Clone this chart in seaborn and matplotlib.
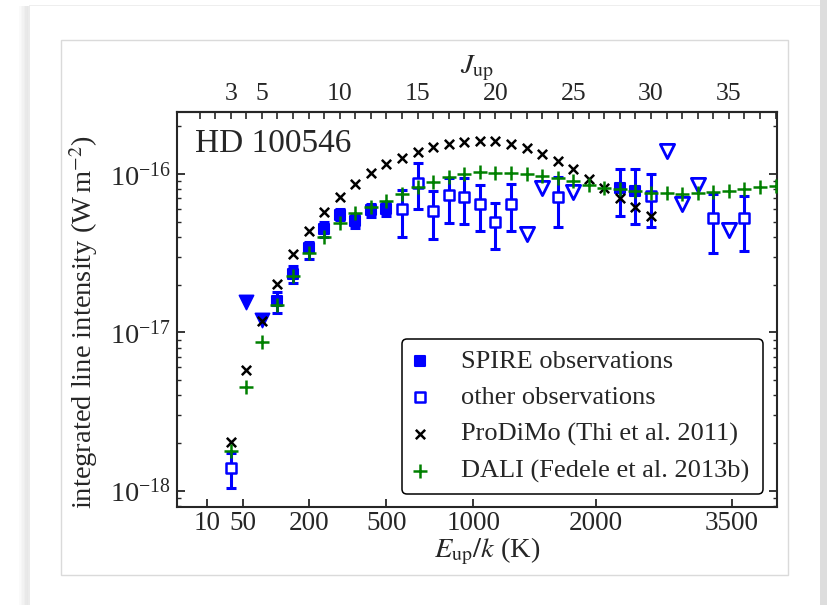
import numpy as np
import matplotlib
matplotlib.use("Agg")
import matplotlib.pyplot as plt
import seaborn as sns
from matplotlib.patches import Rectangle
from matplotlib.ticker import FixedLocator, NullFormatter, LogLocator

# ---------------- data ----------------
spire_J = [6, 7, 8, 9, 10, 11, 12, 13, 28, 29]
spire_flux = [1.58e-17, 2.34e-17, 3.40e-17, 4.50e-17, 5.51e-17, 5.07e-17, 5.93e-17, 6.01e-17, 8.19e-17, 7.81e-17]
spire_lo = [1.33e-17, 2.04e-17, 2.89e-17, 3.98e-17, 5.13e-17, 4.54e-17, 5.33e-17, 5.43e-17, 5.43e-17, 4.81e-17]
spire_hi = [1.80e-17, 2.63e-17, 3.71e-17, 5.00e-17, 5.98e-17, 5.58e-17, 6.47e-17, 6.59e-17, 1.08e-16, 1.08e-16]

spire_lim_J = [4, 5]
spire_lim_flux = [1.55e-17, 1.20e-17]

other_J = [3, 14, 15, 16, 17, 18, 19, 20, 21, 24, 30, 34, 36]
other_flux = [1.38e-18, 5.98e-17, 8.77e-17, 5.86e-17, 7.36e-17, 7.13e-17, 6.47e-17, 5.00e-17, 6.49e-17, 7.11e-17, 7.28e-17, 5.29e-17, 5.29e-17]
other_lo = [1.04e-18, 4.00e-17, 5.98e-17, 3.87e-17, 4.89e-17, 4.83e-17, 4.33e-17, 3.37e-17, 4.33e-17, 4.65e-17, 4.65e-17, 3.16e-17, 3.25e-17]
other_hi = [1.74e-18, 7.92e-17, 1.17e-16, 7.85e-17, 9.39e-17, 9.39e-17, 8.52e-17, 6.56e-17, 8.61e-17, 9.61e-17, 9.96e-17, 7.50e-17, 7.28e-17]

other_lim_J = [22, 23, 25, 31, 32, 33, 35]
other_lim_flux = [4.19e-17, 8.12e-17, 7.68e-17, 1.39e-16, 6.49e-17, 8.56e-17, 4.41e-17]

prodimo_J = list(range(3, 31))
prodimo_flux = [2.04e-18, 5.74e-18, 1.17e-17, 2.02e-17, 3.11e-17, 4.38e-17, 5.74e-17, 7.18e-17,
                8.65e-17, 1.01e-16, 1.15e-16, 1.26e-16, 1.37e-16, 1.47e-16, 1.55e-16, 1.59e-16,
                1.62e-16, 1.61e-16, 1.55e-16, 1.45e-16, 1.34e-16, 1.20e-16, 1.07e-16, 9.30e-17,
                8.16e-17, 7.03e-17, 6.17e-17, 5.43e-17]

dali_J = list(range(3, 39))
dali_flux = [1.79e-18, 4.52e-18, 8.73e-18, 1.48e-17, 2.25e-17, 3.16e-17, 4.02e-17, 4.92e-17,
             5.63e-17, 6.16e-17, 6.73e-17, 7.48e-17, 8.22e-17, 8.90e-17, 9.61e-17, 1.00e-16,
             1.03e-16, 1.02e-16, 1.02e-16, 9.97e-17, 9.64e-17, 9.39e-17, 8.97e-17, 8.55e-17,
             8.19e-17, 8.00e-17, 7.81e-17, 7.62e-17, 7.55e-17, 7.51e-17, 7.59e-17, 7.68e-17,
             7.85e-17, 8.02e-17, 8.28e-17, 8.44e-17]

E_tick_values = [10, 50, 200, 500, 1000, 2000, 3500]
J_tick_values = [3, 5, 10, 15, 20, 25, 30, 35]
J_minor_values = list(range(1, 39))
B_CO = 2.75  # K, rotational constant used to place E_up ticks on the J axis

# ---------------- style ----------------
sns.set_style("ticks")
plt.rcParams["font.family"] = ["Liberation Serif", "DejaVu Serif"]
plt.rcParams["mathtext.fontset"] = "stix"
plt.rcParams["axes.linewidth"] = 1.5

BLUE = "#0000ff"
GREEN = "#008000"

fig = plt.figure(figsize=(8.27, 6.05), dpi=100)
fig.patch.set_facecolor("white")

# page-like decoration
W, H = 827.0, 605.0
for i, a in enumerate([0.04, 0.07, 0.10, 0.14, 0.18, 0.20, 0.16]):
    fig.patches.append(Rectangle(((19 + i * 1.5) / W, 0), 1.5 / W, 1 - 6 / H,
                                 transform=fig.transFigure, color="#888888",
                                 alpha=a, lw=0, zorder=0))
fig.patches.append(Rectangle((820 / W, 0), 7 / W, 1, transform=fig.transFigure,
                             color="#dddddd", lw=0, zorder=0))
fig.patches.append(Rectangle((61 / W, 1 - 575 / H), (788 - 61) / W, (575 - 40) / H,
                             transform=fig.transFigure, fill=False,
                             edgecolor="#dadada", lw=1.0, zorder=0))
fig.patches.append(Rectangle((29 / W, 1 - 6 / H), (820 - 29) / W, 1.2 / H,
                             transform=fig.transFigure, color="#eeeeee", lw=0, zorder=0))

ax = fig.add_axes([176.7 / W, 1 - 507.3 / H, 600 / W, 395.6 / H])
ax.set_yscale("log")

# error bars
sp = np.array(spire_flux)
ax.errorbar(spire_J, sp, yerr=[sp - np.array(spire_lo), np.array(spire_hi) - sp],
            fmt="none", ecolor=BLUE, elinewidth=2.2, capsize=3.6, capthick=2.2, zorder=2)
ot = np.array(other_flux)
ax.errorbar(other_J, ot, yerr=[ot - np.array(other_lo), np.array(other_hi) - ot],
            fmt="none", ecolor=BLUE, elinewidth=2.2, capsize=3.6, capthick=2.2, zorder=2)

# observations
sns.scatterplot(x=spire_J, y=spire_flux, ax=ax, marker="s", s=50, color=BLUE,
                edgecolor=BLUE, linewidth=1.5, label="SPIRE observations", zorder=3)
sns.scatterplot(x=other_J, y=other_flux, ax=ax, marker="s", s=50, facecolor="white",
                edgecolor=BLUE, linewidth=1.8, label="other observations", zorder=3)
sns.scatterplot(x=spire_lim_J, y=spire_lim_flux, ax=ax, marker="v", s=105, color=BLUE,
                edgecolor=BLUE, linewidth=1.2, zorder=3)
sns.scatterplot(x=other_lim_J, y=other_lim_flux, ax=ax, marker="v", s=105, facecolor="white",
                edgecolor=BLUE, linewidth=2.0, zorder=3)

# models
sns.scatterplot(x=prodimo_J, y=prodimo_flux, ax=ax, marker="x", s=45, color="black",
                linewidth=1.8, label="ProDiMo (Thi et al. 2011)", zorder=4)
sns.scatterplot(x=dali_J, y=dali_flux, ax=ax, marker="+", s=90, color=GREEN,
                linewidth=1.8, label="DALI (Fedele et al. 2013b)", zorder=5)

ax.set_xlim(-0.47, 38.07)
ax.set_ylim(7.85e-19, 2.47e-16)

# bottom axis: E_up/k ticks placed on the J scale
E_arr = np.array(E_tick_values, dtype=float)
J_of_E = np.sqrt(E_arr / B_CO + 0.25) - 0.5
ax.xaxis.set_major_locator(FixedLocator(J_of_E))
ax.set_xticklabels([str(e) for e in E_tick_values])
ax.xaxis.set_minor_locator(FixedLocator([]))
ax.tick_params(axis="x", which="major", direction="in", length=6, width=1.3,
               labelsize=19.5, pad=3, top=False, bottom=True)

ax.yaxis.set_major_locator(LogLocator(base=10, numticks=10))
ax.yaxis.set_minor_locator(LogLocator(base=10, subs=np.arange(2, 10), numticks=100))
ax.yaxis.set_minor_formatter(NullFormatter())
ax.tick_params(axis="y", which="major", direction="in", length=6, width=1.3,
               labelsize=20.5, pad=4, left=True, right=True)
ax.tick_params(axis="y", which="minor", direction="in", length=3, width=1.0,
               left=True, right=True)

ax.set_xlabel(r"$E_\mathrm{up}/k$ (K)", fontsize=20.5)
ax.xaxis.set_label_coords(0.517, -0.072)
ax.set_ylabel(r"integrated line intensity (W$\,$m$^{-2}$)", fontsize=20.5)
ax.yaxis.set_label_coords(-0.128, 0.468)

# top axis: J_up
sec = ax.secondary_xaxis("top")
sec.xaxis.set_major_locator(FixedLocator(J_tick_values))
sec.xaxis.set_minor_locator(FixedLocator(J_minor_values))
sec.tick_params(axis="x", which="both", direction="in", length=5, width=1.2,
                labelsize=18.5, pad=5)
sec.set_xlabel(r"$J_\mathrm{up}$", fontsize=20.5, labelpad=7)

ax.text(0.0305, 0.899, "HD 100546", transform=ax.transAxes, fontsize=24,
        va="baseline", ha="left")

x0 = (402 - 176.7) / 600
y0 = (507.3 - 494) / 395.6
w = (763 - 402) / 600
h = (494 - 336) / 395.6
leg = ax.legend(loc="lower left", bbox_to_anchor=(x0, y0, w, h), mode="expand",
                borderaxespad=0, fontsize=19, scatterpoints=1, handlelength=0.6,
                handletextpad=1.25, labelspacing=0.5, borderpad=0.4,
                frameon=True, fancybox=True, edgecolor="black", framealpha=1)
leg.get_frame().set_linewidth(1.1)

fig.savefig("out.png", dpi=100)
